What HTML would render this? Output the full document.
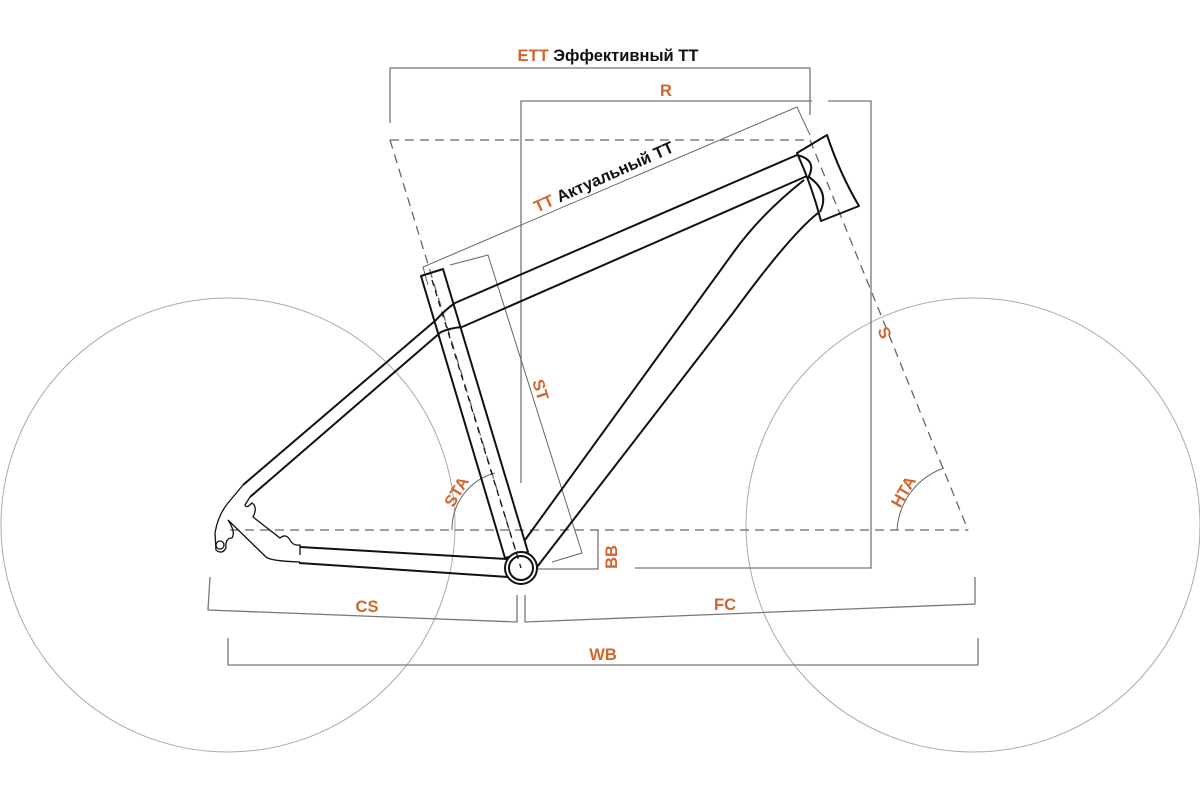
<!DOCTYPE html>
<html><head><meta charset="utf-8"><style>
html,body{margin:0;padding:0;background:#fff;}
svg{display:block;}
.o{fill:#d2652c;font-family:"Liberation Sans",sans-serif;font-weight:bold;font-size:16.5px;}
.k{fill:#111;font-family:"Liberation Sans",sans-serif;font-weight:bold;font-size:16.5px;}
</style></head><body>
<svg width="1200" height="800" viewBox="0 0 1200 800" xmlns="http://www.w3.org/2000/svg">
<circle cx="228" cy="525" r="227" fill="none" stroke="#aaa" stroke-width="1"/>
<circle cx="973" cy="525" r="227" fill="none" stroke="#aaa" stroke-width="1"/>

<g stroke="#666" stroke-width="1.3" fill="none" stroke-dasharray="9,6">
<line x1="230" y1="530" x2="968" y2="530"/>
<line x1="390" y1="140" x2="808" y2="140"/>
<line x1="390" y1="140" x2="521" y2="568"/>
<line x1="810" y1="140" x2="968" y2="530"/>
</g>

<g stroke="#777" stroke-width="1.3" fill="none">
<polyline points="390,123 390,68 810,68 810,115"/>
<polyline points="521,483 521,101 812,101"/>
<polyline points="828,101 871,101 871,568 635,568"/>
<polyline points="598,530 598,569 525,569"/>
<polyline points="210,577 208,610 517,622 517,595"/>
<polyline points="525,595 525,622 975,604 975,577"/>
<polyline points="228,638 228,665 978,665 978,638"/>
</g>
<g stroke="#666" stroke-width="1" fill="none">
<polyline points="428,285 423,267 797,107 810,135"/>
<polyline points="450,265 488,255 582,553 552,562"/>
<path d="M452,530 A58,58 0 0 1 495,473"/>
<path d="M897,530 A70,70 0 0 1 944,468"/>
</g>

<g stroke="#111" stroke-width="2" fill="none" stroke-linejoin="round">
<polygon points="421,276 443,269 528,552 505,558"/>
<line x1="455" y1="303" x2="797" y2="155"/>
<line x1="462" y1="327" x2="807" y2="176"/>
<path d="M455,303 Q445,310 436,320 L243,485"/>
<path d="M462,327 Q450,328 441,332 L250,497"/>
<path d="M797,153 L827,135 Q840,174 859,206 L821,221 Q812,186 797,153 Z"/>
<path d="M797,155 Q818,160 808,178"/>
<path d="M809,177 Q830,192 820,212"/>
<path d="M804,180 Q760,215 733,253 L525,540"/>
<path d="M818,213 Q790,235 733,313 L537,567"/>
<line x1="300" y1="547" x2="507" y2="559"/>
<line x1="299" y1="563" x2="508" y2="577"/>
<circle cx="521" cy="568" r="16" fill="#fff"/>
<circle cx="521" cy="568" r="12"/>
</g>
<g stroke="#111" stroke-width="1.3" fill="none">
<path d="M243,485 L228,503 Q218,515 215,533 L216,550 Q222,555 226,548 Q225,538 232,538 Q236,532 228,520 L266,557 Q270,561 300,562"/>
<path d="M250,497 L245,505 Q246,509 252,503 Q258,507 253,517 L280,538 Q286,533 290,540 Q293,546 300,545 L300,555"/>
<circle cx="220" cy="545" r="4"/>
<line x1="432" y1="280" x2="521" y2="568" stroke-dasharray="6,5"/>
</g>

<text x="608" y="61" text-anchor="middle"><tspan class="o">ETT</tspan><tspan class="k"> Эффективный ТТ</tspan></text>
<text class="o" x="666" y="96" text-anchor="middle">R</text>
<g transform="translate(606,182) rotate(-24)"><text x="0" y="0" text-anchor="middle"><tspan class="o">TT</tspan><tspan class="k"> Актуальный ТТ</tspan></text></g>
<g transform="translate(540,390) rotate(73)"><text class="o" x="0" y="5" text-anchor="middle">ST</text></g>
<g transform="translate(612,557) rotate(-90)"><text class="o" x="0" y="5" text-anchor="middle">BB</text></g>
<g transform="translate(457,492) rotate(-60)"><text class="o" x="0" y="5" text-anchor="middle">STA</text></g>
<g transform="translate(904,492) rotate(-60)"><text class="o" x="0" y="5" text-anchor="middle">HTA</text></g>
<g transform="translate(884,333) rotate(68)"><text class="o" x="0" y="5" text-anchor="middle">S</text></g>
<text class="o" x="367" y="612" text-anchor="middle">CS</text>
<text class="o" x="725" y="610" text-anchor="middle">FC</text>
<text class="o" x="603" y="660" text-anchor="middle">WB</text>
</svg>
</body></html>
